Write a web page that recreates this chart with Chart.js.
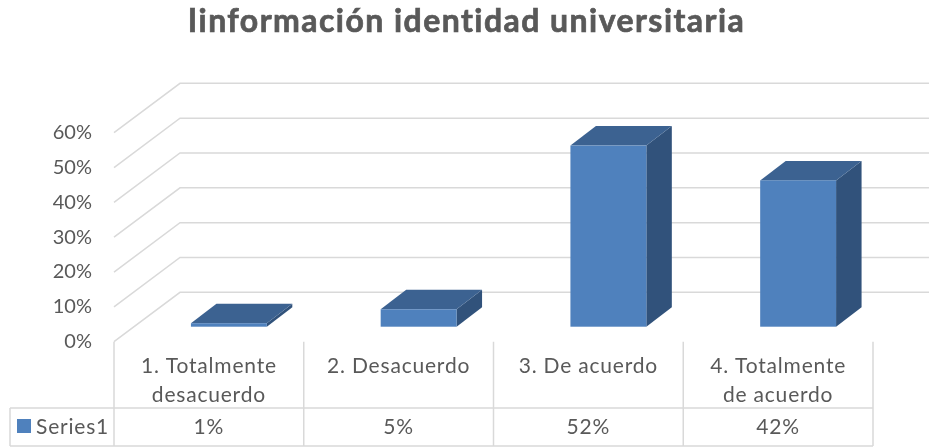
<!DOCTYPE html>
<html>
<head>
<meta charset="utf-8">
<script src="https://cdn.jsdelivr.net/npm/chart.js@4/dist/chart.umd.min.js"></script>
<style>
  html, body { margin: 0; padding: 0; background: #ffffff; }
  #wrap { width: 929px; height: 447px; }
</style>
</head>
<body>
<div id="wrap"><canvas id="c" width="929" height="447"></canvas></div>
<script>
// ---- data ----
const chartTitle = 'Iinformación identidad universitaria';
const categories = [['1. Totalmente', 'desacuerdo'], ['2. Desacuerdo'], ['3. De acuerdo'], ['4. Totalmente', 'de acuerdo']];
const seriesName = 'Series1';
const values = [0.01, 0.05, 0.52, 0.42];
const yMax = 0.6;
const yStep = 0.1;

// ---- style ----
const TEXT = '#595959';
const GRID = '#d9d9d9';
const FRONT = '#4f81bd';
const TOP = '#3c6291';
const SIDE = '#31527b';
const WALL_DX = 66, WALL_DY = -49.4;   // depth of the 3D back wall
const BAR_DX = 20, BAR_DY = -15;       // bar front offset into depth
const BAR_DEPTH_X = 25.5, BAR_DEPTH_Y = -19.5;
const pct = v => Math.round(v * 100) + '%';

const threeD = {
  id: 'threeD',
  beforeDatasetsDraw(chart) {
    const ctx = chart.ctx, y = chart.scales.y, a = chart.chartArea;
    ctx.save();
    ctx.strokeStyle = GRID;
    ctx.lineWidth = 1.5;
    y.ticks.forEach(t => {
      const py = y.getPixelForValue(t.value);
      ctx.beginPath();
      ctx.moveTo(a.left, py);
      ctx.lineTo(a.left + WALL_DX, py + WALL_DY);
      ctx.lineTo(a.right + WALL_DX, py + WALL_DY);
      ctx.stroke();
    });
    ctx.restore();
  },
  afterDatasetsDraw(chart) {
    const ctx = chart.ctx;
    const meta = chart.getDatasetMeta(0);
    ctx.save();
    meta.data.forEach(el => {
      const w = el.width;
      const x0 = el.x - w / 2 + BAR_DX, x1 = x0 + w;
      const yt = el.y + BAR_DY, yb = el.base + BAR_DY;
      ctx.fillStyle = SIDE;
      ctx.beginPath();
      ctx.moveTo(x1, yt); ctx.lineTo(x1 + BAR_DEPTH_X, yt + BAR_DEPTH_Y);
      ctx.lineTo(x1 + BAR_DEPTH_X, yb + BAR_DEPTH_Y); ctx.lineTo(x1, yb);
      ctx.closePath(); ctx.fill();
      ctx.fillStyle = TOP;
      ctx.beginPath();
      ctx.moveTo(x0, yt); ctx.lineTo(x0 + BAR_DEPTH_X, yt + BAR_DEPTH_Y);
      ctx.lineTo(x1 + BAR_DEPTH_X, yt + BAR_DEPTH_Y); ctx.lineTo(x1, yt);
      ctx.closePath(); ctx.fill();
      ctx.fillStyle = FRONT;
      ctx.fillRect(x0, yt, w, yb - yt);
    });
    ctx.restore();
  },
  afterDraw(chart) {
    const ctx = chart.ctx, a = chart.chartArea;
    const xs = chart.scales.x;
    const n = categories.length;
    const cw = (a.right - a.left) / n;
    const rowY = 408, botY = 446, legL = 10;
    ctx.save();
    // title
    ctx.fillStyle = TEXT;
    ctx.strokeStyle = TEXT;
    ctx.lineWidth = 0.7;
    ctx.font = 'bold 32px Lato';
    ctx.letterSpacing = '1.45px';
    ctx.textAlign = 'center';
    ctx.textBaseline = 'alphabetic';
    ctx.fillText(chartTitle, chart.width / 2 + 2, 32);
    ctx.strokeText(chartTitle, chart.width / 2 + 2, 32);
    // table grid
    ctx.letterSpacing = '0px';
    ctx.strokeStyle = GRID;
    ctx.lineWidth = 1.5;
    ctx.beginPath();
    for (let i = 0; i <= n; i++) {
      const x = a.left + i * cw;
      ctx.moveTo(x, a.bottom); ctx.lineTo(x, botY);
    }
    ctx.moveTo(legL, rowY); ctx.lineTo(a.right, rowY);
    ctx.moveTo(legL, botY); ctx.lineTo(a.right, botY);
    ctx.moveTo(legL, rowY); ctx.lineTo(legL, botY);
    ctx.stroke();
    // header labels and values
    ctx.fillStyle = TEXT;
    ctx.font = '21px Lato';
    ctx.letterSpacing = '0.8px';
    ctx.textAlign = 'center';
    categories.forEach((lines, i) => {
      const cx = xs.getPixelForValue(i);
      lines.forEach((ln, j) => ctx.fillText(ln, cx, 372.5 + j * 29));
      ctx.fillText(pct(values[i]), cx, 434);
    });
    // legend key
    ctx.fillStyle = FRONT;
    ctx.fillRect(17, 419, 14, 14);
    ctx.fillStyle = TEXT;
    ctx.textAlign = 'left';
    ctx.fillText(seriesName, 36, 434);
    ctx.restore();
  }
};

new Chart(document.getElementById('c'), {
  type: 'bar',
  data: {
    labels: categories,
    datasets: [{
      label: seriesName,
      data: values,
      backgroundColor: 'rgba(0,0,0,0)',
      borderWidth: 0,
      categoryPercentage: 1,
      barPercentage: 0.4
    }]
  },
  options: {
    responsive: false,
    animation: false,
    devicePixelRatio: 1,
    layout: { padding: { left: 0, right: 56, top: 132.7, bottom: 105.3 } },
    plugins: {
      legend: { display: false },
      tooltip: { enabled: false },
      title: { display: false }
    },
    scales: {
      x: { display: false },
      y: {
        min: 0,
        max: yMax,
        grid: { display: false, drawTicks: false },
        border: { display: false },
        ticks: {
          stepSize: yStep,
          color: TEXT,
          font: { family: 'Lato', size: 20 },
          padding: 22,
          callback: v => pct(v)
        },
        afterFit(s) { s.width = 114; }
      }
    }
  },
  plugins: [threeD]
});
</script>
</body>
</html>
